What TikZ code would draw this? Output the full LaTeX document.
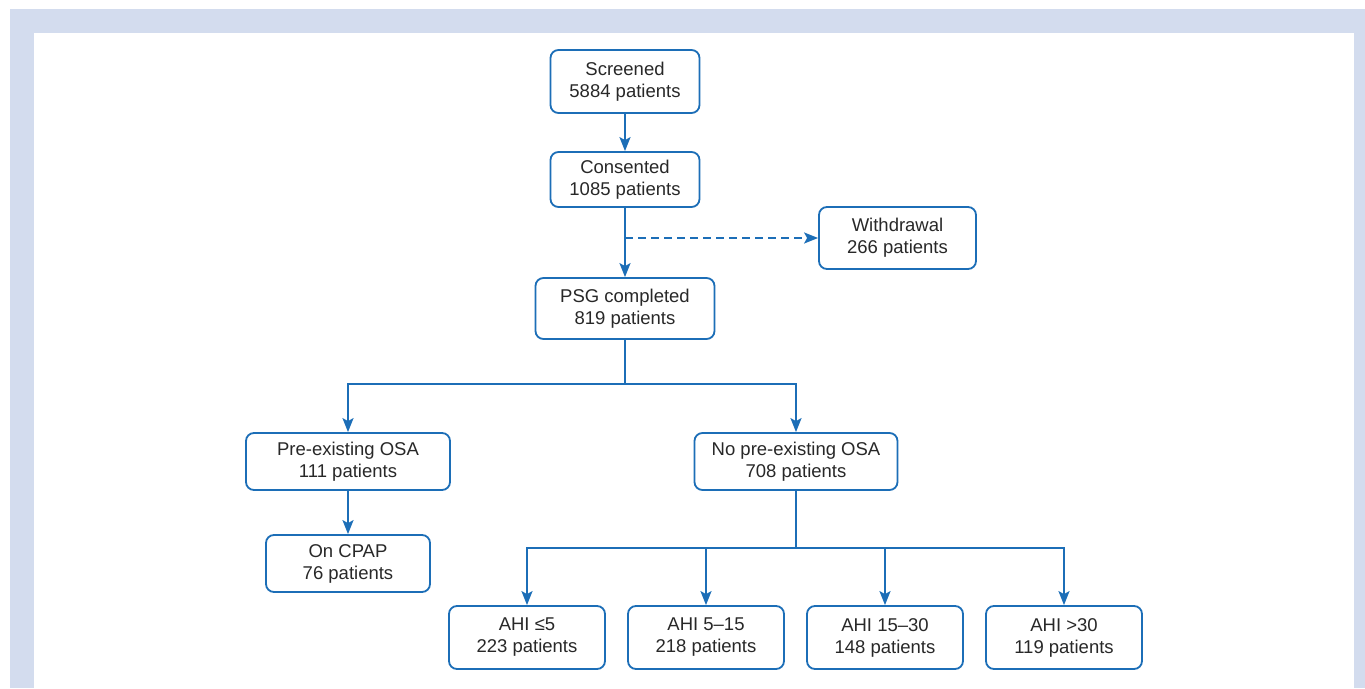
\documentclass[tikz,border=0pt]{standalone}
\usepackage{fontspec}
\setmainfont{Liberation Sans}
\usetikzlibrary{arrows.meta}
\definecolor{flowblue}{RGB}{28,110,183}
\definecolor{bandgray}{RGB}{211,220,238}
\definecolor{txtgray}{RGB}{40,40,40}
\begin{document}
\begin{tikzpicture}[x=1pt, y=-1pt,
    main/.style = {draw=flowblue, line width=1.8pt, rounded corners=8pt, align=center,
        inner sep=0pt, text=txtgray, font=\fontsize{18.5}{22}\selectfont},
    arr/.style = {draw=flowblue, line width=1.8pt, -{Stealth[length=14pt, width=11pt, inset=3pt]}},
    link/.style = {draw=flowblue, line width=1.8pt}]
	% frame
	\useasboundingbox (0,0) rectangle (1365,688);
	\fill[white] (0,0) rectangle (1365,688);
	\fill[bandgray] (10,9) rectangle (1365,688);
	\fill[white] (34,33) rectangle (1354,688);
	% boxes
	\node[main, minimum width=149pt, minimum height=63pt] (scr) at (625,81.5) {Screened\\5884 patients};
	\node[main, minimum width=149pt, minimum height=55pt] (con) at (625,179.5) {Consented\\1085 patients};
	\node[main, minimum width=157pt, minimum height=62pt] (wd) at (897.5,238) {Withdrawal\\266 patients};
	\node[main, minimum width=179pt, minimum height=61pt] (psg) at (625,308.5) {PSG completed\\819 patients};
	\node[main, minimum width=204pt, minimum height=57pt] (pre) at (348,461.5) {Pre-existing OSA\\111 patients};
	\node[main, minimum width=203pt, minimum height=57pt] (nopre) at (796,461.5) {No pre-existing OSA\\708 patients};
	\node[main, minimum width=164pt, minimum height=57pt] (cpap) at (348,563.5) {On CPAP\\76 patients};
	\node[main, minimum width=156pt, minimum height=63pt] (ahi1) at (527,637.5) {AHI ≤5\\223 patients};
	\node[main, minimum width=156pt, minimum height=63pt] (ahi2) at (706,637.5) {AHI 5–15\\218 patients};
	\node[main, minimum width=156pt, minimum height=63pt] (ahi3) at (885,637.5) {AHI 15–30\\148 patients};
	\node[main, minimum width=156pt, minimum height=63pt] (ahi4) at (1064,637.5) {AHI >30\\119 patients};
	% connectors
	\coordinate (wdsplit) at (625,238);
	\coordinate (split1) at (625,384);
	\coordinate (split2) at (796,548);
	\draw[arr] (scr) -- (con);
	\draw[arr] (con) -- (psg);
	\draw[arr, dash pattern=on 8pt off 5pt] (wdsplit) -- (wd);
	\draw[link] (psg) -- (split1);
	\draw[arr] (split1) -| (pre);
	\draw[arr] (split1) -| (nopre);
	\draw[arr] (pre) -- (cpap);
	\draw[link] (nopre) -- (split2);
	\draw[arr] (split2) -| (ahi1);
	\draw[arr] (split2) -| (ahi2);
	\draw[arr] (split2) -| (ahi3);
	\draw[arr] (split2) -| (ahi4);
\end{tikzpicture}
\end{document}
